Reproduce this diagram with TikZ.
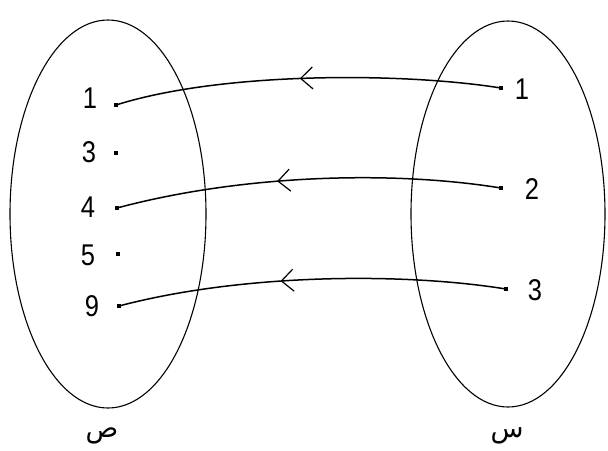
\documentclass[tikz,border=0pt]{standalone}
\usepackage{fontspec}
\setmainfont{Liberation Sans}
\newfontfamily\arabicfont[Script=Arabic]{DejaVu Sans}
\TeXXeTstate=1
\usetikzlibrary{arrows.meta,decorations.markings}
\begin{document}
\begin{tikzpicture}[x=1pt,y=-1pt,
  setell/.style={draw,line width=1.1pt},
  pt/.style={rectangle,fill,inner sep=0pt,minimum size=4.5pt},
  num/.style={inner sep=0pt,xscale=0.85,font=\fontsize{30}{30}\selectfont},
  conn/.style={line width=1.5pt,postaction={decorate},
    decoration={markings,mark=at position #1 with {\arrow[line width=1.2pt]{Straight Barb[length=12pt,width=22pt]}}}},
  setlab/.style={inner sep=0pt,font=\arabicfont\fontsize{27}{27}\selectfont}
]
\useasboundingbox (0,0) rectangle (608,450);
\draw[setell] (108,214) ellipse [x radius=98, y radius=194];
\draw[setell] (508,214) ellipse [x radius=97, y radius=193];
% left points
\node[pt] (l1) at (116,105) {};
\node[pt] (l3) at (116,153) {};
\node[pt] (l4) at (117,208) {};
\node[pt] (l5) at (118,254) {};
\node[pt] (l9) at (119,306) {};
\node[num] (tl1) at (90,98) {1};
\node[num] (tl3) at (89,152) {3};
\node[num] (tl4) at (88,207) {4};
\node[num] (tl5) at (88,255) {5};
\node[num] (tl9) at (92,306) {9};
% right points
\node[pt] (r1) at (501,88) {};
\node[pt] (r2) at (501,188) {};
\node[pt] (r3) at (506,289) {};
\node[num] (tr1) at (522,89) {1};
\node[num] (tr2) at (532,189) {2};
\node[num] (tr3) at (535,290) {3};
% connectors
\draw[conn=0.52] (r1.center) .. controls (400,72) and (220,72) .. (l1.center);
\draw[conn=0.58] (r2.center) .. controls (390,170) and (240,175) .. (l4.center);
\draw[conn=0.58] (r3.center) .. controls (400,272) and (240,274) .. (l9.center);
% set labels
\node[setlab] (sad) at (102,436) {\beginR ص\endR};
\node[setlab] (sin) at (507,436) {\beginR س\endR};
\end{tikzpicture}
\end{document}
